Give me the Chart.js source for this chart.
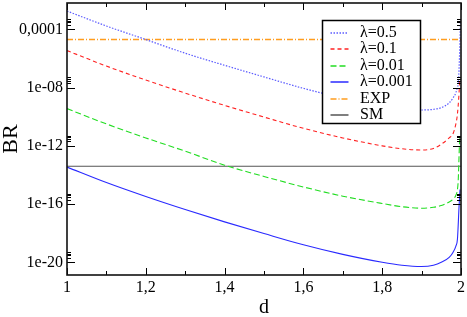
<!DOCTYPE html>
<html>
<head>
<meta charset="utf-8">
<script src="https://cdn.jsdelivr.net/npm/chart.js@4.4.0/dist/chart.umd.min.js"></script>
<style>
  html, body { margin: 0; padding: 0; background: #fff; }
  #wrap { width: 467px; height: 317px; }
</style>
</head>
<body>
<div id="wrap"><canvas id="chart" width="467" height="317"></canvas></div>
<script>
// BR vs d (log scale)
const d05 = [1.0, 1.1, 1.2, 1.3, 1.4, 1.5, 1.6, 1.7, 1.8, 1.85, 1.9, 1.93, 1.95, 1.97, 1.98, 1.987, 1.991, 1.9935, 1.9967, 1.9985];
const br05 = [1.8e-3, 1.7e-4, 2.0e-5, 2.3e-6, 3.4e-7, 5.4e-8, 8.9e-9, 1.9e-9, 5.4e-10, 3.5e-10, 2.9e-10, 3.2e-10, 4.2e-10, 8.9e-10, 2.0e-9, 4.5e-9, 1.1e-8, 2.5e-8, 4.0e-6, 4.0e-4];

const d01 = [1.0, 1.1, 1.2, 1.3, 1.4, 1.5, 1.6, 1.7, 1.8, 1.85, 1.9, 1.93, 1.95, 1.97, 1.98, 1.987, 1.991, 1.995, 1.9967];
const br01 = [3.5e-6, 3.0e-7, 3.3e-8, 4.2e-9, 6.0e-10, 9.5e-11, 1.6e-11, 3.5e-12, 1.0e-12, 6.3e-13, 5.2e-13, 6.6e-13, 1.3e-12, 3.5e-12, 7.1e-12, 3.2e-11, 1.6e-10, 4.0e-9, 3.2e-8];

const d001 = [1.0, 1.1, 1.2, 1.3, 1.4, 1.5, 1.6, 1.7, 1.8, 1.85, 1.9, 1.93, 1.95, 1.97, 1.98, 1.987, 1.991, 1.993, 1.995, 1.9967];
const br001 = [3.6e-10, 3.2e-11, 3.5e-12, 4.3e-13, 4.7e-14, 7.9e-15, 1.5e-15, 3.5e-16, 1.1e-16, 6.6e-17, 5.2e-17, 6.0e-17, 7.9e-17, 1.4e-16, 2.2e-16, 4.0e-16, 1.0e-15, 4.5e-15, 1.8e-13, 4.0e-12];

const d0001 = [1.0, 1.1, 1.2, 1.3, 1.4, 1.5, 1.6, 1.7, 1.8, 1.85, 1.9, 1.93, 1.95, 1.97, 1.98, 1.987, 1.991, 1.995, 1.9975];
const br0001 = [3.5e-14, 3.0e-15, 3.3e-16, 4.2e-17, 6.0e-18, 9.5e-19, 1.6e-19, 3.5e-20, 1.0e-20, 6.3e-21, 5.2e-21, 6.3e-21, 1.0e-20, 2.2e-20, 5.0e-20, 1.3e-19, 4.0e-19, 6.3e-17, 1.0e-15];

const dLimits = [1, 2];
const brExp = [2e-5, 2e-5];
const brSm = [4e-14, 4e-14];

const seriesLabels = ['λ=0.5', 'λ=0.1', 'λ=0.01', 'λ=0.001', 'EXP', 'SM'];
const yTickValues = [1e-20, 1e-16, 1e-12, 1e-8, 1e-4];
const yTickLabels = ['1e-20', '1e-16', '1e-12', '1e-08', '0,0001'];
const yMin = Math.pow(10, -20.87);
const yMax = Math.pow(10, -2.19);

const SERIF = '"Liberation Serif", "DejaVu Serif", serif';

function pts(xs, ys) {
  return xs.map((x, i) => ({ x: x, y: ys[i] }));
}

// tick marks inside the frame on all four sides, plus the frame itself
const frameTicks = {
  id: 'frameTicks',
  afterDatasetsDraw(chart) {
    const { ctx, chartArea: a, scales: { x, y } } = chart;
    ctx.save();
    ctx.strokeStyle = '#000';
    ctx.lineWidth = 1;
    ctx.beginPath();
    const xMajor = x.ticks.map(t => t.value);
    xMajor.forEach((v, i) => {
      const px = Math.round(x.getPixelForValue(v)) + 0.5;
      ctx.moveTo(px, a.bottom); ctx.lineTo(px, a.bottom - 7);
      ctx.moveTo(px, a.top); ctx.lineTo(px, a.top + 7);
      if (i < xMajor.length - 1) {
        const pm = Math.round(x.getPixelForValue(v + 0.1)) + 0.5;
        ctx.moveTo(pm, a.bottom); ctx.lineTo(pm, a.bottom - 4);
        ctx.moveTo(pm, a.top); ctx.lineTo(pm, a.top + 4);
      }
    });
    yTickValues.forEach(v => {
      const py = Math.round(y.getPixelForValue(v)) + 0.5;
      ctx.moveTo(a.left, py); ctx.lineTo(a.left + 8, py);
      ctx.moveTo(a.right, py); ctx.lineTo(a.right - 8, py);
      [2, 3, 4, 5].forEach(k => {
        const pm = Math.round(y.getPixelForValue(v * k)) + 0.5;
        ctx.moveTo(a.left, pm); ctx.lineTo(a.left + 4, pm);
        ctx.moveTo(a.right, pm); ctx.lineTo(a.right - 4, pm);
      });
    });
    ctx.stroke();
    ctx.lineWidth = 1.6;
    ctx.strokeStyle = '#111';
    ctx.strokeRect(a.left, a.top, a.right - a.left, a.bottom - a.top);
    ctx.restore();
  }
};

// boxed legend in the upper right, as in the original figure
const boxLegend = {
  id: 'boxLegend',
  afterDraw(chart) {
    const ctx = chart.ctx;
    const left = 322.5, top = 20.5, w = 98, h = 103;
    ctx.save();
    ctx.fillStyle = '#fff';
    ctx.fillRect(left, top, w, h);
    ctx.strokeStyle = '#000';
    ctx.lineWidth = 1.5;
    ctx.strokeRect(left, top, w, h);
    ctx.font = '16px ' + SERIF;
    ctx.textBaseline = 'middle';
    chart.data.datasets.forEach((ds, i) => {
      const yy = Math.round(top + 12.5 + i * 16.4);
      ctx.strokeStyle = ds.borderColor;
      ctx.lineWidth = 1.5;
      ctx.setLineDash(ds.borderDash || []);
      ctx.beginPath();
      ctx.moveTo(left + 8, yy);
      ctx.lineTo(left + 26, yy);
      ctx.stroke();
      ctx.setLineDash([]);
      ctx.fillStyle = '#000';
      ctx.fillText(ds.label, left + 37.5, yy);
    });
    ctx.restore();
  }
};

function line(label, data, color, dash, width) {
  return {
    label: label,
    data: data,
    borderColor: color,
    borderWidth: width,
    borderDash: dash,
    pointRadius: 0,
    fill: false,
    cubicInterpolationMode: 'monotone'
  };
}

new Chart(document.getElementById('chart'), {
  type: 'line',
  data: {
    datasets: [
      line(seriesLabels[0], pts(d05, br05), '#5c5cff', [1.5, 1.5], 1.2),
      line(seriesLabels[1], pts(d01, br01), '#ff2222', [4, 3], 1.1),
      line(seriesLabels[2], pts(d001, br001), '#22dd22', [6, 3], 1.1),
      line(seriesLabels[3], pts(d0001, br0001), '#2a2aff', [], 1.1),
      line(seriesLabels[4], pts(dLimits, brExp), '#ff9d1f', [6, 2, 1, 2], 1.6),
      line(seriesLabels[5], pts(dLimits, brSm), '#555555', [], 1.1)
    ]
  },
  options: {
    responsive: false,
    animation: false,
    devicePixelRatio: 1,
    layout: { padding: { top: 3, right: 6, bottom: 0, left: 0 } },
    plugins: {
      legend: { display: false },
      tooltip: { enabled: false }
    },
    scales: {
      x: {
        type: 'linear',
        min: 1,
        max: 2,
        grid: { display: false, drawTicks: false },
        border: { display: false },
        ticks: {
          stepSize: 0.2,
          padding: 3,
          color: '#000',
          font: { family: SERIF, size: 16 },
          maxRotation: 0,
          callback: v => String(Number(v.toFixed(1))).replace('.', ',')
        },
        title: {
          display: true,
          text: 'd',
          color: '#000',
          font: { family: SERIF, size: 20, lineHeight: 0.9 },
          padding: 0
        },
        afterFit: s => {
          s.height = 42;
          s.paddingLeft = 0;
          s.paddingRight = 0;
        }
      },
      y: {
        type: 'logarithmic',
        bounds: 'data',
        min: yMin,
        max: yMax,
        grid: { display: false, drawTicks: false },
        border: { display: false },
        afterBuildTicks: s => {
          s.ticks = yTickValues.map(v => ({ value: v }));
          s.min = yMin;
          s.max = yMax;
        },
        ticks: {
          autoSkip: false,
          padding: 4,
          color: '#000',
          font: { family: SERIF, size: 16 },
          callback: (v, i) => yTickLabels[i]
        },
        title: {
          display: true,
          text: 'BR',
          color: '#000',
          font: { family: SERIF, size: 22, lineHeight: 1.05 },
          padding: 0
        },
        afterFit: s => {
          s.width = 67;
          s.paddingTop = 0;
          s.paddingBottom = 0;
        }
      }
    }
  },
  plugins: [frameTicks, boxLegend]
});
</script>
</body>
</html>
